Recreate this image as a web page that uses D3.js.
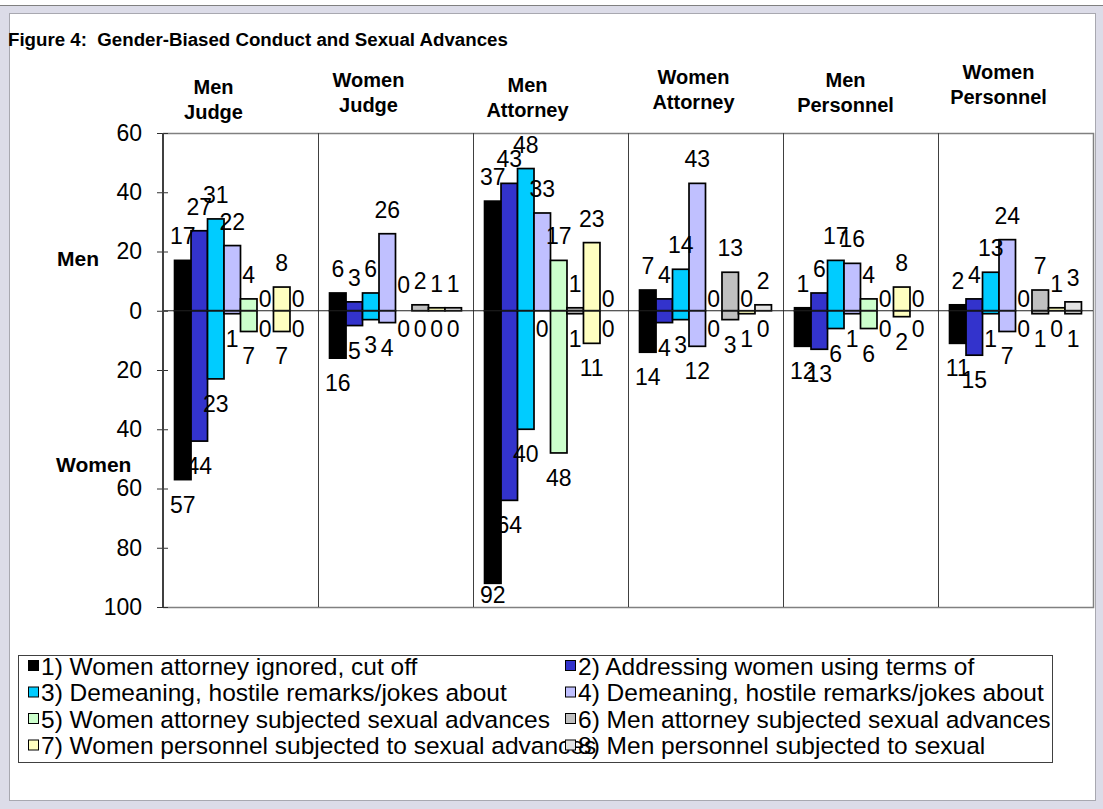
<!DOCTYPE html>
<html>
<head>
<meta charset="utf-8">
<script src="https://cdn.jsdelivr.net/npm/d3@7"></script>
<style>
  body { margin: 0; background: #fff; }
  svg text { font-family: Arial, "Liberation Sans", sans-serif; fill: #000; }
</style>
</head>
<body>
<svg id="chart"></svg>
<script>
'use strict';

// ---- data ----
var panels = ['Men Judge', 'Women Judge', 'Men Attorney', 'Women Attorney', 'Men Personnel', 'Women Personnel'];
var panelHeaders = [['Men', 'Judge'], ['Women', 'Judge'], ['Men', 'Attorney'], ['Women', 'Attorney'], ['Men', 'Personnel'], ['Women', 'Personnel']];
var seriesNames = [
  '1) Women attorney ignored, cut off',
  '2) Addressing women using terms of',
  '3) Demeaning, hostile remarks/jokes about',
  '4) Demeaning, hostile remarks/jokes about',
  '5) Women attorney subjected sexual advances',
  '6) Men attorney subjected sexual advances',
  '7) Women personnel subjected to sexual advances',
  '8) Men personnel subjected to sexual'
];
// men respondents (drawn upward), one row per panel, one value per series
var menValues = [
  [17, 27, 31, 22, 4, 0, 8, 0],
  [6, 3, 6, 26, 0, 2, 1, 1],
  [37, 43, 48, 33, 17, 1, 23, 0],
  [7, 4, 14, 43, 0, 13, 0, 2],
  [1, 6, 17, 16, 4, 0, 8, 0],
  [2, 4, 13, 24, 0, 7, 1, 3]
];
// women respondents (drawn downward)
var womenValues = [
  [57, 44, 23, 1, 7, 0, 7, 0],
  [16, 5, 3, 4, 0, 0, 0, 0],
  [92, 64, 40, 0, 48, 1, 11, 0],
  [14, 4, 3, 12, 0, 3, 1, 0],
  [12, 13, 6, 1, 6, 0, 2, 0],
  [11, 15, 1, 7, 0, 1, 0, 1]
];
var yTicks = [60, 40, 20, 0, -20, -40, -60, -80, -100];

// ---- look ----
var seriesColors = ['#000000', '#3333cc', '#00ccff', '#c0c0ff', '#ccffcc', '#c0c0c0', '#ffffc0', '#e3e3e3'];
var headerShift = [[-27, 94], [-27, 87], [-23, 92], [-12, 84], [-15, 87], [-17, 79]]; // dx from panel centre, first baseline

var W = 1103, H = 809;
var plot = { left: 163, right: 1093, top: 133, bottom: 607 };

var svg = d3.select('#chart').attr('width', W).attr('height', H);

// frame
svg.append('rect').attr('x', 0).attr('y', 5).attr('width', W).attr('height', H - 5).attr('fill', '#dcdce8');
svg.append('line').attr('x1', 0).attr('x2', W).attr('y1', 5.5).attr('y2', 5.5).attr('stroke', '#808080');
svg.append('rect').attr('x', 9.5).attr('y', 13.5).attr('width', 1086).attr('height', 787)
  .attr('fill', '#fff').attr('stroke', '#a8a8b0');

svg.append('text').attr('x', 8).attr('y', 46)
  .style('font-size', '18.7px').style('font-weight', 'bold').style('white-space', 'pre')
  .text('Figure 4:  Gender-Biased Conduct and Sexual Advances');

// scales
var y = d3.scaleLinear().domain([-100, 60]).range([plot.bottom, plot.top]);
var xPanel = d3.scaleBand().domain(panels).range([plot.left, plot.right]);
var xSeries = d3.scaleBand().domain(d3.range(seriesNames.length))
  .range([0, xPanel.bandwidth()]).paddingInner(0).paddingOuter(0.7);

// plot frame + panel separators
var g = svg.append('g');
g.append('path')
  .attr('d', 'M' + plot.left + ',' + (plot.top + 0.5) + 'H' + (plot.right + 0.5) + 'V' + (plot.bottom + 0.5) + 'H' + plot.left)
  .attr('fill', 'none').attr('stroke', '#808080').attr('stroke-width', 1.5);
g.selectAll('line.sep')
  .data(panels.slice(1))
  .enter().append('line')
  .attr('class', 'sep')
  .attr('x1', function(d) { return Math.round(xPanel(d)) + 0.5; })
  .attr('x2', function(d) { return Math.round(xPanel(d)) + 0.5; })
  .attr('y1', plot.top).attr('y2', plot.bottom)
  .attr('stroke', '#404040').attr('stroke-width', 1);

// bars: one record per panel/series
var cells = [];
panels.forEach(function(p, i) {
  seriesNames.forEach(function(s, j) {
    cells.push({ panel: p, s: j, men: menValues[i][j], women: womenValues[i][j] });
  });
});

function barX(d) { return xPanel(d.panel) + xSeries(d.s); }

var bars = g.append('g');
bars.selectAll('rect.men')
  .data(cells.filter(function(d) { return d.men > 0; }))
  .enter().append('rect')
  .attr('class', 'men')
  .attr('x', barX)
  .attr('width', xSeries.bandwidth())
  .attr('y', function(d) { return y(d.men); })
  .attr('height', function(d) { return y(0) - y(d.men); })
  .attr('fill', function(d) { return seriesColors[d.s]; })
  .attr('stroke', '#000').attr('stroke-width', 1.7);

bars.selectAll('rect.women')
  .data(cells.filter(function(d) { return d.women > 0; }))
  .enter().append('rect')
  .attr('class', 'women')
  .attr('x', barX)
  .attr('width', xSeries.bandwidth())
  .attr('y', y(0))
  .attr('height', function(d) { return y(-d.women) - y(0); })
  .attr('fill', function(d) { return seriesColors[d.s]; })
  .attr('stroke', '#000').attr('stroke-width', 1.7);

// zero line
g.append('line')
  .attr('x1', plot.left).attr('x2', plot.right)
  .attr('y1', y(0)).attr('y2', y(0))
  .attr('stroke', '#202020').attr('stroke-width', 1);

// data labels
var labels = g.append('g').style('font-size', '23px').attr('text-anchor', 'middle');
labels.selectAll('text.men')
  .data(cells)
  .enter().append('text')
  .attr('x', function(d) { return barX(d) + xSeries.bandwidth() / 2; })
  .attr('y', function(d) {
    if (d.men === 0) return d.panel === 'Women Judge' ? y(0) - 18 : y(0) - 4;
    return y(d.men) - 16;
  })
  .text(function(d) { return d.men; });
labels.selectAll('text.women')
  .data(cells)
  .enter().append('text')
  .attr('x', function(d) { return barX(d) + xSeries.bandwidth() / 2; })
  .attr('y', function(d) {
    if (d.women === 0) return y(0) + 26;
    return Math.min(y(-d.women) + 33, plot.bottom - 4);
  })
  .text(function(d) { return d.women; });

// y axis
var yAxis = d3.axisLeft(y)
  .tickValues(yTicks)
  .tickFormat(function(d) { return Math.abs(d); })
  .tickSize(6)
  .tickPadding(15);
var ax = svg.append('g').attr('transform', 'translate(' + plot.left + ',0)').call(yAxis);
ax.select('.domain').remove();
ax.selectAll('.tick line').attr('x1', 5).attr('stroke', '#303030');
ax.selectAll('.tick text').style('font-size', '23px').style('font-family', 'Arial, "Liberation Sans", sans-serif');
ax.append('line').attr('x1', 0).attr('x2', 0).attr('y1', plot.top).attr('y2', plot.bottom)
  .attr('stroke', '#404040').attr('stroke-width', 2);

svg.append('text').attr('x', 57).attr('y', 266)
  .style('font-size', '21px').style('font-weight', 'bold').text('Men');
svg.append('text').attr('x', 56).attr('y', 472)
  .style('font-size', '21px').style('font-weight', 'bold').text('Women');

// panel headers
panels.forEach(function(p, i) {
  var cx = xPanel(p) + xPanel.bandwidth() / 2 + headerShift[i][0];
  var t = svg.append('text').attr('text-anchor', 'middle')
    .style('font-size', '20px').style('font-weight', 'bold');
  panelHeaders[i].forEach(function(line, k) {
    t.append('tspan').attr('x', cx).attr('y', headerShift[i][1] + k * 25).text(line);
  });
});

// legend
var legend = svg.append('g');
legend.append('rect').attr('x', 18.5).attr('y', 655.5).attr('width', 1034).attr('height', 107)
  .attr('fill', '#fff').attr('stroke', '#404040');
var legendCols = [28, 565];
var items = legend.selectAll('g.item')
  .data(seriesNames.map(function(n, i) { return { name: n, i: i }; }))
  .enter().append('g')
  .attr('class', 'item')
  .attr('transform', function(d) {
    return 'translate(' + legendCols[d.i % 2] + ',' + (666 + Math.floor(d.i / 2) * 26.5) + ')';
  });
items.append('text').attr('x', 13).attr('y', 8.5).style('font-size', '24.5px').text(function(d) { return d.name; });
items.append('rect').attr('x', 0.5).attr('y', -5.5).attr('width', 10).attr('height', 10)
  .attr('fill', function(d) { return seriesColors[d.i]; }).attr('stroke', '#000');
// right column keys sit on top of the left column text, as in the original
items.filter(function(d) { return d.i % 2 === 1; }).raise();
</script>
</body>
</html>
